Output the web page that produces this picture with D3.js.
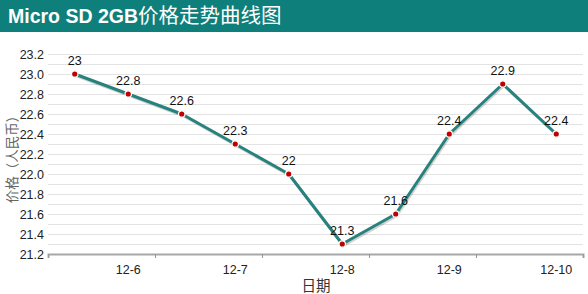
<!DOCTYPE html>
<html>
<head>
<meta charset="UTF-8">
<script src="https://d3js.org/d3.v7.min.js"></script>
<style>
    body { margin: 0; background: #fff; }
    text { font-family: "Liberation Sans", Arial, sans-serif; }
</style>
</head>
<body>
<svg id="chart"></svg>
<script>
// DATA
var prices = [23, 22.8, 22.6, 22.3, 22, 21.3, 21.6, 22.4, 22.9, 22.4];
var dateLabels = ["12-6", "12-7", "12-8", "12-9", "12-10"];
var yTicks = [21.2, 21.4, 21.6, 21.8, 22.0, 22.2, 22.4, 22.6, 22.8, 23.0, 23.2];

var width = 588,
    height = 294;

var svg = d3.select("#chart")
            .attr("width", width)
            .attr("height", height);

// header band
svg.append("rect")
    .attr("width", width)
    .attr("height", 32)
    .attr("fill", "#0f7f7b");

var title = svg.append("text")
    .attr("x", 8)
    .attr("y", 23)
    .attr("fill", "#fff")
    .style("font-size", "19.5px");
title.append("tspan").style("font-weight", "bold").text("Micro SD 2GB");
title.append("tspan")
    .style("font-family", "'Noto Sans CJK SC', sans-serif")
    .style("font-weight", "normal")
    .style("font-size", "20.5px")
    .text("价格走势曲线图");

var x = d3.scaleLinear()
            .domain([0, prices.length])
            .range([48, 583]);

var y = d3.scaleLinear()
            .domain([21.2, 23.2])
            .range([254, 54]);

// grid lines every 0.1
var grid = d3.range(21.3, 23.25, 0.1);
svg.append("g")
    .selectAll("line")
    .data(grid)
    .enter().append("line")
    .attr("x1", 48)
    .attr("x2", 583)
    .attr("y1", d => Math.round(y(d)) + 0.5)
    .attr("y2", d => Math.round(y(d)) + 0.5)
    .attr("stroke", "#e3e3e3")
    .attr("stroke-width", 1.2);

// y axis labels
svg.append("g")
    .attr("transform", "translate(44,0)")
    .call(d3.axisLeft(y).tickValues(yTicks).tickSize(0).tickPadding(0).tickFormat(d3.format(".1f")))
    .call(g => g.select(".domain").remove())
    .call(g => g.selectAll("text")
        .style("font-size", "12.5px")
        .style("font-family", "'Liberation Sans', Arial, sans-serif")
        .attr("fill", "#222"));

// x axis
var xAxis = svg.append("g")
    .attr("transform", "translate(0,254)")
    .call(d3.axisBottom(x).tickValues(d3.range(0, prices.length + 1, 2)).tickSize(4).tickFormat(""));
xAxis.select(".domain").attr("stroke", "#a8a8a8").attr("stroke-width", 2);
xAxis.selectAll(".tick line").attr("stroke", "#999");

svg.append("g")
    .selectAll("text")
    .data(dateLabels)
    .enter().append("text")
    .attr("x", (d, i) => x(i * 2 + 1.5))
    .attr("y", 274)
    .attr("text-anchor", "middle")
    .style("font-size", "12.5px")
    .attr("fill", "#222")
    .text(d => d);

// axis titles
svg.append("text")
    .attr("x", 316)
    .attr("y", 291)
    .attr("text-anchor", "middle")
    .style("font-family", "'Noto Sans CJK SC', sans-serif")
    .style("font-size", "14.5px")
    .attr("fill", "#333")
    .text("日期");

svg.append("text")
    .attr("transform", "translate(17,156) rotate(-90)")
    .attr("text-anchor", "middle")
    .style("font-family", "'Noto Sans CJK SC', sans-serif")
    .style("font-size", "13.5px")
    .attr("fill", "#666")
    .text("价格（人民币）");

// line
var line = d3.line()
    .x((d, i) => x(i + 0.5))
    .y(d => y(d));

svg.append("path")
    .datum(prices)
    .attr("d", line)
    .attr("fill", "none")
    .attr("stroke", "rgba(0,0,0,0.18)")
    .attr("stroke-width", 3)
    .attr("transform", "translate(1,1.5)");

svg.append("path")
    .datum(prices)
    .attr("d", line)
    .attr("fill", "none")
    .attr("stroke", "#27827e")
    .attr("stroke-width", 3)
    .attr("stroke-linejoin", "round");

// points
svg.append("g")
    .selectAll("circle")
    .data(prices)
    .enter().append("circle")
    .attr("cx", (d, i) => x(i + 0.5))
    .attr("cy", d => y(d))
    .attr("r", 3.2)
    .attr("fill", "#c00000")
    .attr("stroke", "#fff")
    .attr("stroke-width", 1.2);

// value labels
svg.append("g")
    .selectAll("text")
    .data(prices)
    .enter().append("text")
    .attr("x", (d, i) => x(i + 0.5))
    .attr("y", d => y(d) - 9)
    .attr("text-anchor", "middle")
    .style("font-size", "12.5px")
    .attr("fill", "#111")
    .text(d => d);
</script>
</body>
</html>
